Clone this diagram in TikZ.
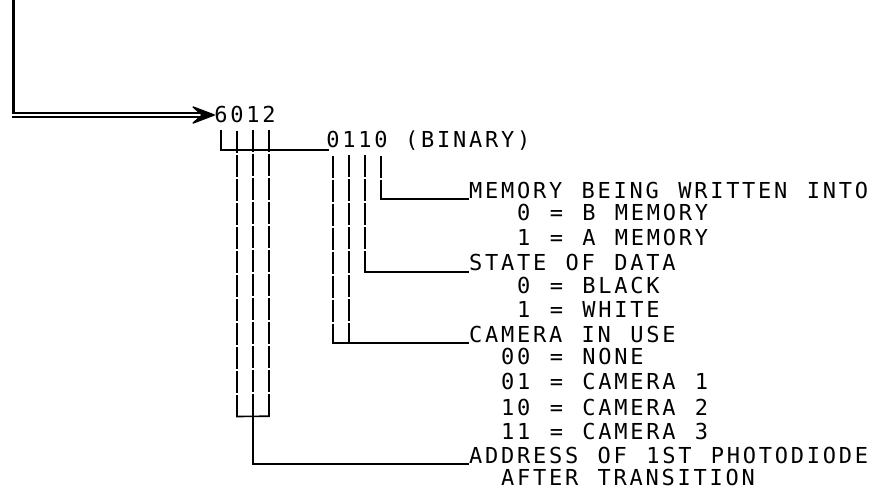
\documentclass[tikz,border=0pt]{standalone}
\usepackage{fontspec}
\usetikzlibrary{arrows.meta,calc}
\newfontfamily\plotfont{DejaVu Sans Mono}[LetterSpace=12.5, WordSpace={1.208,0,0}]
\newfontfamily\digitfont{DejaVu Sans Mono}
\tikzset{
  lbl/.style={font=\plotfont\fontsize{22}{24}\selectfont, inner sep=0pt, anchor=base west},
  dig/.style={font=\digitfont\fontsize{22}{24}\selectfont, inner sep=0pt, anchor=base},
  conn/.style={line width=1.6pt, line cap=rect},
  vline/.style={line width=1.6pt, dash pattern=on 22pt off 2pt},
  head/.style={fill=black, draw=black, line width=1.4pt, line join=round},
}
\begin{document}
\begin{tikzpicture}[x=1pt,y=-1pt]
\path[fill=white] (0,0) rectangle (875,489);
\useasboundingbox (0,0) rectangle (875,489);
% digits
\node[dig] (d6) at (221,123) {6};
\node[dig] (d0) at (237,123) {0};
\node[dig] (d1) at (253,123) {1};
\node[dig] (d2) at (269,123) {2};
\node[dig] (b0) at (333,148) {0};
\node[dig] (b1) at (349,148) {1};
\node[dig] (b2) at (365,148) {1};
\node[dig] (b3) at (381,148) {0};
\node[lbl] (bin) at (405,148) {(BINARY)};
% labels
\node[lbl] (mem)   at (469,199) {MEMORY BEING WRITTEN INTO};
\node[lbl] (memb)  at (517,221) {0 = B MEMORY};
\node[lbl] (mema)  at (517,245) {1 = A MEMORY};
\node[lbl] (state) at (469,270) {STATE OF DATA};
\node[lbl] (blk)   at (517,293) {0 = BLACK};
\node[lbl] (wht)   at (517,317) {1 = WHITE};
\node[lbl] (cam)   at (469,342) {CAMERA IN USE};
\node[lbl] (c0)    at (501,364) {00 = NONE};
\node[lbl] (c1)    at (501,389) {01 = CAMERA 1};
\node[lbl] (c2)    at (501,415) {10 = CAMERA 2};
\node[lbl] (c3)    at (501,439) {11 = CAMERA 3};
\node[lbl] (addr)  at (469,463) {ADDRESS OF 1ST PHOTODIODE};
\node[lbl] (after) at (501,485) {AFTER TRANSITION};
% incoming arrow
\coordinate (src) at (13,0);
\coordinate (bend) at (13,115);
\coordinate (tip) at ($(d6.west |- bend)+(0,0)$);
\draw[line width=3pt] (src) -- ($(bend)+(0,3.5)$);
\draw[double, double distance=2pt, line width=2.2pt] ($(bend)+(-1.5,0)$) -- ($(tip)+(-14,0)$);
\filldraw[head] (tip) -- ++(-21,-8) -- ++(9,8) -- ++(-9,8) -- cycle;
% 6012 connections
\draw[conn] ($(d6.south)+(0,7)$) |- ($(b0.base west)+(2,2)$);
\draw[vline] ($(d0.south)+(0,7)$) -- ($(d0.south)+(0,293)$);
\draw[vline] ($(d1.south)+(0,7)$) -- ($(d1.south)+(0,293)$);
\draw[vline] ($(d2.south)+(0,7)$) -- ($(d2.south)+(0,293)$);
\draw[conn] ($(d0.south)+(0,293)$) -- ($(d2.south)+(0,293)$);
\draw[conn] ($(d1.south)+(0,293)$) |- ($(addr.base west)+(-1,1)$);
% 0110 connections
\draw[vline] ($(b0.south)+(0,7)$) -- ($(b0.south |- cam.base)+(0,1)$);
\draw[vline] ($(b1.south)+(0,7)$) -- ($(b1.south |- cam.base)+(0,1)$);
\draw[conn] ($(b0.south |- cam.base)+(0,1)$) -- ($(cam.base west)+(-1,1)$);
\draw[vline] ($(b2.south)+(0,7)$) -- ($(b2.south |- state.base)+(0,2)$);
\draw[conn] ($(b2.south |- state.base)+(0,2)$) -- ($(state.base west)+(-1,2)$);
\draw[vline] ($(b3.south)+(0,7)$) -- ($(b3.south |- mem.base)+(0,0)$);
\draw[conn] (b3.south |- mem.base) -- ($(mem.base west)+(-1,0)$);
\end{tikzpicture}
\end{document}
